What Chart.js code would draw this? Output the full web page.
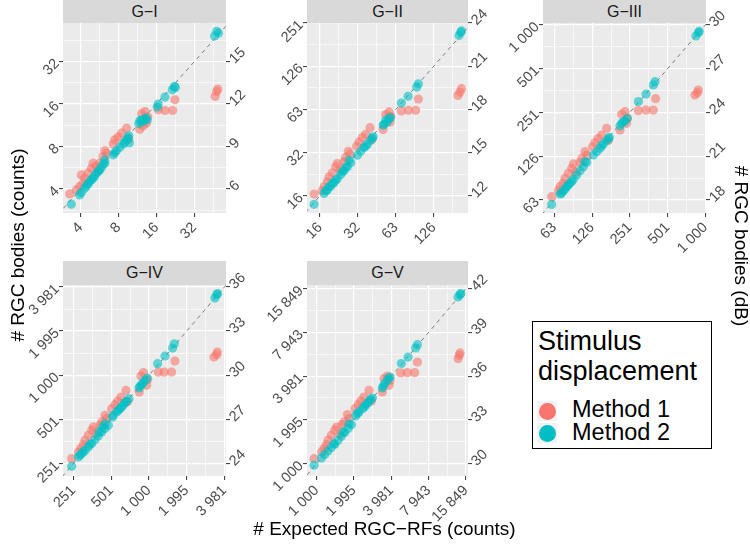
<!DOCTYPE html>
<html><head><meta charset="utf-8">
<script src="https://cdn.jsdelivr.net/npm/chart.js@4.4.1/dist/chart.umd.min.js"></script>
<style>
body{margin:0;width:750px;height:545px;background:#fff;position:relative;overflow:hidden;font-family:"Liberation Sans",Arial,sans-serif;}
.pc{position:absolute;}
.strip{position:absolute;background:#D9D9D9;color:#1A1A1A;font-size:16px;text-align:center;}
.abs{position:absolute;white-space:nowrap;color:#000;}
</style></head><body>
<script>
// ---- data (dB = 10*log10(count)); pairs are [expected, observed] ----
const panelNames = ['G−I','G−II','G−III','G−IV','G−V'];

const g1_method1 = [[16.85,13.05],[16.77,12.89],[16.64,12.53],[13.46,12.30],[13.28,11.54],[12.67,11.54],[12.14,11.59],[11.08,11.47],[10.82,11.31],[11.21,10.65],[10.68,10.22],[10.95,10.46],[11.3,11.1],[9.63,10.29],[9.23,9.94],[8.96,9.66],[8.70,9.47],[8.57,9.18],[9.8,9.5],[7.91,8.71],[8.04,8.52],[7.77,8.29],[7.51,7.82],[6.98,7.82],[6.85,7.46],[7.2,7.6],[6.58,7.11],[6.32,6.75],[6.19,6.40],[5.92,6.17],[5.66,5.93],[5.13,5.65],[6.05,6.99],[7.4,7.3]];
const g1_method2 = [[16.77,17.13],[16.9,17.0],[16.6,16.8],[13.41,13.24],[13.5,13.17],[13.25,13.0],[12.67,12.49],[12.14,11.99],[12.06,11.78],[10.82,10.88],[11.08,10.93],[11.27,10.88],[10.95,10.76],[10.68,10.81],[11.15,11.02],[10.6,10.6],[9.81,9.75],[9.76,9.6],[9.63,9.47],[9.49,9.3],[9.36,9.18],[9.1,8.95],[8.83,8.69],[8.57,8.41],[9.85,9.25],[8.7,8.55],[7.91,7.82],[7.91,8.05],[7.77,7.75],[7.64,7.51],[7.51,7.34],[7.38,7.23],[7.24,7.1],[7.11,6.92],[6.98,6.75],[6.85,6.64],[6.7,6.5],[6.58,6.35],[6.45,6.21],[6.32,6.05],[6.05,5.74],[5.92,5.58],[5.26,4.92]];

const g2_method1 = [[23.19,19.44],[23.08,19.2],[22.92,18.97],[19.78,18.72],[19.57,17.94],[19.0,17.94],[18.44,17.89],[17.46,17.82],[17.2,17.64],[17.54,17.13],[16.99,16.6],[17.6,17.5],[15.96,16.73],[15.61,16.27],[15.35,16.04],[15.09,15.74],[14.9,15.44],[16.1,15.9],[14.24,15.09],[14.37,14.89],[14.03,14.66],[13.9,14.36],[13.37,14.24],[13.24,14.01],[12.98,13.59],[12.71,13.32],[12.58,12.97],[12.32,12.62],[12.18,12.35],[11.53,12.12],[13.6,13.8]];
const g2_method2 = [[23.13,23.36],[23.0,23.13],[23.2,23.45],[19.78,19.78],[19.65,19.55],[18.97,18.91],[18.44,18.44],[17.2,17.24],[17.46,17.36],[17.59,17.43],[17.07,16.97],[17.33,17.13],[17.0,16.9],[16.2,16.09],[16.14,16.0],[16.01,15.86],[15.75,15.58],[15.48,15.35],[15.22,15.09],[14.96,14.82],[15.6,15.45],[14.43,14.29],[14.3,14.47],[14.16,14.01],[14.03,13.96],[13.9,13.73],[13.77,13.66],[13.64,13.48],[13.37,13.18],[13.24,13.09],[13.11,12.9],[12.98,12.85],[12.84,12.67],[12.71,12.62],[12.58,12.39],[12.45,12.35],[12.32,12.16],[11.53,11.4]];

const g3_method1 = [[29.43,25.53],[29.35,25.35],[29.16,25.19],[26.04,24.94],[25.86,24.16],[25.28,24.16],[24.67,24.12],[23.61,24.05],[23.34,23.87],[23.74,23.25],[23.21,22.79],[23.8,23.6],[22.15,22.91],[21.76,22.45],[21.49,22.22],[21.23,21.93],[21.04,21.65],[22.3,22.1],[20.43,21.31],[20.57,21.08],[20.17,20.85],[20.04,20.56],[19.51,20.47],[19.38,20.17],[19.11,19.83],[18.85,19.48],[18.71,19.14],[18.45,18.91],[18.32,18.64],[17.79,18.23],[19.7,19.9]];
const g3_method2 = [[29.43,29.46],[29.24,29.23],[29.5,29.55],[25.99,26.1],[25.86,25.88],[25.28,25.26],[24.67,24.74],[23.79,23.59],[23.61,23.43],[23.34,23.25],[23.21,23.07],[23.5,23.35],[22.37,22.29],[22.29,22.2],[22.15,22.06],[21.89,21.84],[21.62,21.54],[21.36,21.31],[21.1,21.08],[21.75,21.7],[20.57,20.56],[20.43,20.63],[20.3,20.28],[20.04,20.01],[19.77,19.71],[19.51,19.42],[19.38,19.26],[19.24,19.14],[19.11,19.03],[18.98,18.91],[18.85,18.73],[18.71,18.64],[18.58,18.46],[18.45,18.41],[17.79,17.7]];

const g4_method1 = [[35.43,31.58],[35.38,31.4],[35.16,31.24],[32.07,30.97],[31.8,30.22],[31.22,30.22],[30.75,30.22],[29.56,30.18],[29.37,29.95],[29.82,29.32],[29.24,28.86],[29.9,29.7],[28.18,28.98],[27.78,28.52],[27.52,28.25],[27.31,28.0],[27.04,27.73],[28.3,28.2],[26.51,27.28],[26.65,27.05],[26.25,26.83],[26.12,26.6],[25.59,26.49],[25.46,26.26],[25.19,25.92],[24.93,25.58],[24.79,25.29],[24.58,25.02],[24.4,24.79],[23.87,24.34],[25.8,26.0]];
const g4_method2 = [[35.38,35.47],[35.24,35.24],[35.45,35.55],[32.02,32.14],[31.88,31.85],[31.28,31.31],[30.69,30.79],[29.87,29.81],[29.69,29.66],[29.42,29.36],[29.21,29.14],[29.55,29.5],[29.3,29.25],[28.42,28.41],[28.23,28.23],[27.97,28.0],[27.7,27.73],[27.44,27.51],[27.17,27.28],[27.1,27.15],[28.1,28.14],[27.84,27.85],[27.57,27.62],[26.78,26.6],[26.51,26.38],[26.51,26.71],[26.33,26.49],[26.25,26.15],[26.06,26.15],[25.98,25.88],[25.72,25.63],[25.46,25.36],[25.32,25.31],[25.19,25.13],[24.93,24.9],[24.79,24.79],[24.66,24.68],[24.53,24.57],[24.4,24.45],[23.87,23.82]];

const g5_method1 = [[41.53,37.59],[41.47,37.43],[41.37,37.2],[38.1,36.97],[37.88,36.24],[37.29,36.24],[36.76,36.22],[35.68,36.01],[35.42,35.83],[35.82,35.37],[35.28,34.91],[35.9,35.7],[34.21,35.03],[33.81,34.57],[33.54,34.3],[33.35,34.05],[33.08,33.77],[34.4,34.3],[32.47,33.36],[32.6,33.09],[32.2,32.86],[32.06,32.67],[31.61,32.51],[31.45,32.29],[31.18,31.94],[30.91,31.6],[30.78,31.3],[30.59,31.03],[30.4,30.8],[29.79,30.34],[31.9,32.0]];
const g5_method2 = [[41.53,41.59],[41.37,41.43],[41.6,41.68],[38.1,38.16],[37.96,37.93],[37.35,37.31],[36.81,36.86],[35.9,35.94],[35.68,35.71],[35.47,35.49],[35.28,35.19],[35.8,35.85],[35.35,35.3],[34.48,34.5],[34.34,34.41],[34.21,34.27],[33.94,34.0],[33.81,33.89],[33.67,33.77],[33.4,33.54],[33.27,33.43],[33.14,33.27],[34.1,34.15],[32.79,32.67],[32.6,32.74],[32.52,32.4],[32.25,32.13],[32.14,32.17],[31.98,31.87],[31.72,31.6],[31.45,31.33],[31.39,31.37],[31.18,31.1],[30.91,30.87],[30.64,30.62],[30.38,30.39],[29.79,29.89]];

// tick positions (dB) and their count labels
const g1_tick_db = [6,9,12,15];     const g1_tick_counts = ['4','8','16','32'];
const g2_tick_db = [12,15,18,21,24]; const g2_tick_counts = ['16','32','63','126','251'];
const g3_tick_db = [18,21,24,27,30]; const g3_tick_counts = ['63','126','251','501','1 000'];
const g4_tick_db = [24,27,30,33,36]; const g4_tick_counts = ['251','501','1 000','1 995','3 981'];
const g5_tick_db = [30,33,36,39,42]; const g5_tick_counts = ['1 000','1 995','3 981','7 943','15 849'];

// axis ranges (dB)
const g1_range = {x:[4.6,17.5], y:[4.3,17.72]};
const g2_range = {x:[10.97,23.71], y:[10.8,24.0]};
const g3_range = {x:[17.1,30.04], y:[17.11,30.12]};
const g4_range = {x:[23.18,36.12], y:[23.16,36.13]};
const g5_range = {x:[29.22,42.17], y:[29.15,42.25]};

// ---- layout ----
const panels = [
  {name:panelNames[0], m1:g1_method1, m2:g1_method2, tdb:g1_tick_db, tl:g1_tick_counts, r:g1_range, l:63, t:23, w:163, h:190, sh:23},
  {name:panelNames[1], m1:g2_method1, m2:g2_method2, tdb:g2_tick_db, tl:g2_tick_counts, r:g2_range, l:307, t:23, w:161, h:190, sh:23},
  {name:panelNames[2], m1:g3_method1, m2:g3_method2, tdb:g3_tick_db, tl:g3_tick_counts, r:g3_range, l:543, t:23, w:163, h:190, sh:23},
  {name:panelNames[3], m1:g4_method1, m2:g4_method2, tdb:g4_tick_db, tl:g4_tick_counts, r:g4_range, l:63, t:285, w:163, h:191, sh:24},
  {name:panelNames[4], m1:g5_method1, m2:g5_method2, tdb:g5_tick_db, tl:g5_tick_counts, r:g5_range, l:307, t:285, w:161, h:191, sh:24}
];
const PADL=62, PADR=40, PADT=30, PADB=62;
const isMajor = v => v!=null && Math.abs(v/3 - Math.round(v/3)) < 1e-6;

const bgPlugin = {id:'bg', beforeDraw(chart){const {ctx, chartArea:a}=chart; ctx.save(); ctx.fillStyle='#EBEBEB'; ctx.fillRect(a.left,a.top,a.right-a.left,a.bottom-a.top); ctx.restore();}};

function axisOpts(pos, range, tdb, labels, onArea){
  return {
    type:'linear', position:pos, min:range[0], max:range[1],
    border:{display:false},
    grid:{display:true, drawOnChartArea:onArea, color:'#FFFFFF',
      lineWidth: c => isMajor(c.tick && c.tick.value) ? 1.2 : 0.6,
      drawTicks:true, tickLength:4, tickWidth:1,
      tickColor: c => isMajor(c.tick && c.tick.value) ? '#333333' : 'rgba(0,0,0,0)'},
    afterBuildTicks: s => {
      const t=[]; let v=Math.ceil(range[0]/1.5-1e-9)*1.5;
      for(; v<=range[1]+1e-9; v+=1.5) t.push({value:Math.round(v*10)/10});
      s.ticks=t;
    },
    afterFit: s => {
      if(pos==='bottom') s.height=PADB; else if(pos==='left') s.width=PADL; else s.width=PADR;
      s.paddingTop=0; s.paddingBottom=0; s.paddingLeft=0; s.paddingRight=0;
    },
    ticks:{autoSkip:false, minRotation:45, maxRotation:45, color:'#4D4D4D', padding:2,
      font:{family:'Liberation Sans', size:14.5},
      callback: v => { const i=tdb.findIndex(t=>Math.abs(t-v)<1e-6); return i>=0 ? labels[i] : ''; }}
  };
}

panels.forEach(p=>{
  const W=p.w+PADL+PADR, H=p.h+PADT+PADB;
  const wrap=document.createElement('div'); wrap.className='pc';
  wrap.style.left=(p.l-PADL)+'px'; wrap.style.top=(p.t-PADT)+'px';
  wrap.style.width=W+'px'; wrap.style.height=H+'px';
  const c=document.createElement('canvas'); c.width=W; c.height=H;
  c.style.width=W+'px'; c.style.height=H+'px';
  wrap.appendChild(c); document.body.appendChild(wrap);
  const strip=document.createElement('div'); strip.className='strip';
  strip.style.left=p.l+'px'; strip.style.top=(p.t-p.sh)+'px'; strip.style.width=p.w+'px';
  strip.style.height=p.sh+'px'; strip.style.lineHeight=p.sh+'px'; strip.textContent=p.name;
  document.body.appendChild(strip);
  const toPts = arr => arr.map(d=>({x:d[0], y:d[1]}));
  new Chart(c, {
    type:'scatter',
    data:{datasets:[
      {label:'Method 2', data:toPts(p.m2), backgroundColor:'rgba(0,191,196,0.6)', borderWidth:0, pointRadius:4.6, pointHoverRadius:4.6, order:0},
      {label:'Method 1', data:toPts(p.m1), backgroundColor:'rgba(248,118,109,0.6)', borderWidth:0, pointRadius:4.6, pointHoverRadius:4.6, order:1},
      {type:'line', label:'identity', data:[{x:0,y:0},{x:50,y:50}], borderColor:'#7F7F7F', borderDash:[4,4], borderWidth:1, pointRadius:0, fill:false, order:2}
    ]},
    options:{
      responsive:false, animation:false, devicePixelRatio:1,
      layout:{padding:{top:PADT,left:0,right:0,bottom:0}},
      plugins:{legend:{display:false}, tooltip:{enabled:false}},
      scales:{
        x: axisOpts('bottom', p.r.x, p.tdb, p.tl, true),
        y: axisOpts('left', p.r.y, p.tdb, p.tl, true),
        y2: axisOpts('right', p.r.y, p.tdb, p.tdb.map(String), false)
      }
    },
    plugins:[bgPlugin]
  });
});
</script>

<!-- axis titles -->
<div class="abs" style="left:184.5px;top:519px;width:400px;text-align:center;font-size:19px;line-height:19px;"># Expected RGC−RFs (counts)</div>
<div class="abs" style="left:-132px;top:235px;width:300px;height:20px;text-align:center;font-size:19px;line-height:20px;transform:rotate(-90deg);"># RGC bodies (counts)</div>
<div class="abs" style="left:591px;top:236px;width:300px;height:20px;text-align:center;font-size:19px;line-height:20px;transform:rotate(90deg);"># RGC bodies (dB)</div>

<!-- legend -->
<div class="abs" style="left:532px;top:321px;width:178px;height:126px;border:1.5px solid #000;"></div>
<div class="abs" style="left:538px;top:325.5px;font-size:27px;line-height:30px;">Stimulus<br>displacement</div>
<div class="abs" style="left:537px;top:401px;width:20px;height:20px;background:#F2F2F2;"></div>
<div class="abs" style="left:537px;top:423px;width:20px;height:20px;background:#F2F2F2;"></div>
<div class="abs" style="left:538.5px;top:402.5px;width:17px;height:17px;border-radius:50%;background:#F8766D;"></div>
<div class="abs" style="left:538.5px;top:424.5px;width:17px;height:17px;border-radius:50%;background:#00BFC4;"></div>
<div class="abs" style="left:572px;top:398px;font-size:23.5px;line-height:23.5px;">Method 1</div>
<div class="abs" style="left:572px;top:421px;font-size:23.5px;line-height:23.5px;">Method 2</div>
</body></html>
